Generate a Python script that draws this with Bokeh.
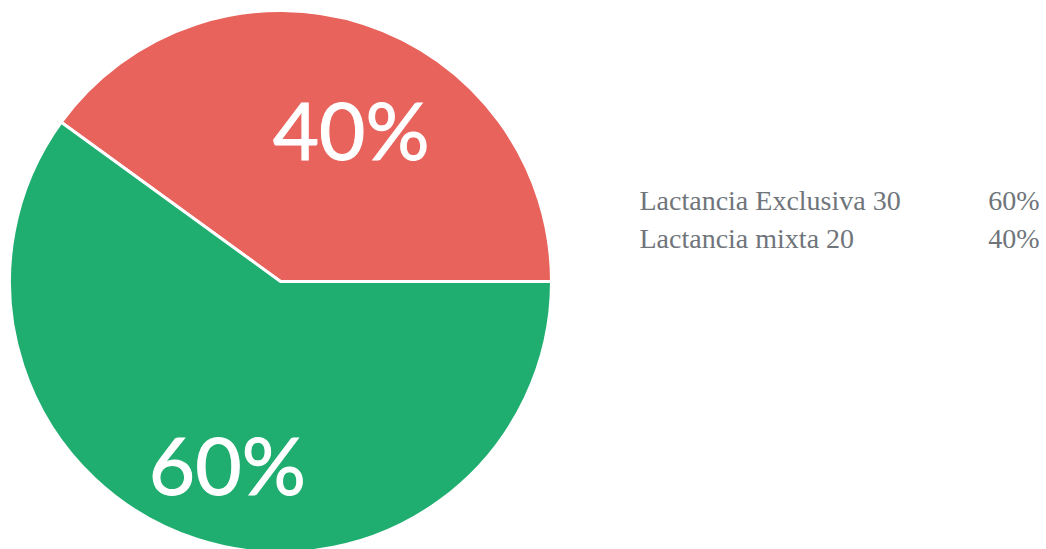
from math import pi, cos, sin
from bokeh.plotting import figure
from bokeh.models import ColumnDataSource
from bokeh.core.properties import value
from bokeh.embed import file_html
from bokeh.resources import INLINE

# Data
categories = ["Lactancia Exclusiva", "Lactancia mixta"]
counts = [30, 20]
percents = [60, 40]
colors = ["#1fae70", "#e8635b"]

W, H = 1046, 549
p = figure(width=W, height=H, x_range=(0, W), y_range=(0, H),
           output_backend="svg", toolbar_location=None, min_border=0)
p.axis.visible = False
p.grid.visible = False
p.outline_line_color = None
p.background_fill_color = "white"

cx, cy, R = 280, 268, 271
total = sum(counts)

# red slice starts at 3 o'clock and runs anticlockwise, green fills the rest
order = [1, 0]
start = 0.0
starts, ends, cols, mids = [], [], [], []
for i in order:
    frac = counts[i] / total
    end = start + frac * 2 * pi
    starts.append(start)
    ends.append(end)
    cols.append(colors[i])
    mids.append((start + end) / 2)
    start = end

src = ColumnDataSource(dict(x=[cx] * 2, y=[cy] * 2, start=starts, end=ends, color=cols))
p.wedge(x="x", y="y", radius=R, start_angle="start", end_angle="end",
        fill_color="color", line_color="white", line_width=3, source=src)

# percentage labels inside slices
label_radius = [0.62, 0.70]
label_shift = [-0.12, 0.03]
lx, ly, lt = [], [], []
for k, i in enumerate(order):
    a = mids[k] + label_shift[k]
    lx.append(cx + label_radius[k] * R * cos(a))
    ly.append(cy + label_radius[k] * R * sin(a))
    lt.append(f"{percents[i]}%")
p.text(x=lx, y=ly, text=lt, text_color="white", text_font=value("Lato"),
       text_font_size="80px", text_outline_color="white",
       text_align="center", text_baseline="middle")

# legend
leg_x0, leg_x1 = 639, 1039
leg_y = [H - 200, H - 238]
p.text(x=[leg_x0] * 2, y=leg_y, text=[f"{c} {n}" for c, n in zip(categories, counts)],
       text_color="#70757b", text_font=value("Liberation Serif"), text_font_size="28px",
       text_align="left", text_baseline="alphabetic")
p.text(x=[leg_x1] * 2, y=leg_y, text=[f"{v}%" for v in percents],
       text_color="#70757b", text_font=value("Liberation Serif"), text_font_size="28px",
       text_align="right", text_baseline="alphabetic")

open("out.html", "w").write(file_html(p, INLINE))
